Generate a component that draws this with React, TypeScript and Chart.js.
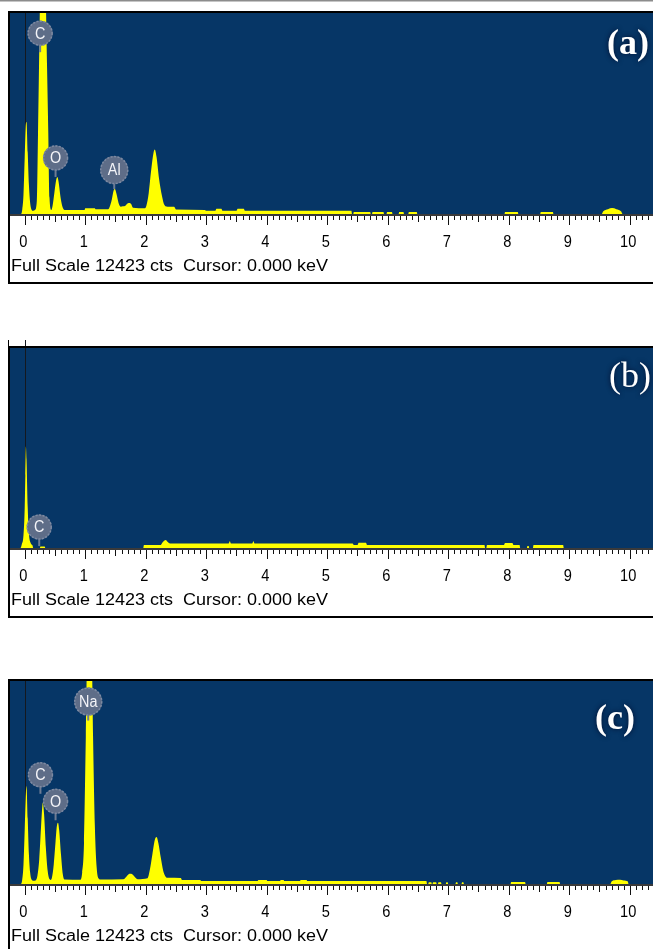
import React, { useEffect, useRef } from "react";
import { Chart, registerables } from "chart.js";

Chart.register(...registerables);

// ---------- data ----------
const FULL_SCALE = 12423; // cts
const X_MIN = -0.243; // keV
const X_MAX = 10.385; // keV
const MAJOR_TICKS = [0, 1, 2, 3, 4, 5, 6, 7, 8, 9, 10];
const FOOTER = "Full Scale 12423 cts  Cursor: 0.000 keV";

type Pt = [number, number]; // [keV, counts]

const SPECTRUM_A: Pt[] = [
  [-0.25, 0], [-0.06, 0], [-0.04, 300], [-0.02, 1200], [0.0, 3500], [0.02, 5600], [0.03, 5680], [0.05, 3800],
  [0.07, 1800], [0.09, 700], [0.11, 300], [0.14, 200], [0.17, 250],
  [0.2, 800], [0.22, 5000], [0.24, 10000], [0.26, 15000], [0.3, 20000], [0.34, 15000], [0.37, 9000], [0.39, 5000],
  [0.41, 1000], [0.44, 250],
  [0.46, 500], [0.49, 1300], [0.52, 2100], [0.54, 2290], [0.56, 2000], [0.59, 1100], [0.62, 500], [0.66, 250],
  [0.99, 250], [1.0, 350], [1.16, 350], [1.17, 300], [1.38, 300],
  [1.4, 400], [1.44, 900], [1.47, 1450], [1.49, 1540], [1.52, 1200], [1.55, 700], [1.59, 450],
  [1.62, 480], [1.66, 500], [1.69, 620], [1.72, 680], [1.76, 620], [1.79, 380], [1.98, 350],
  [2.01, 500], [2.05, 1300], [2.09, 2700], [2.13, 3800], [2.15, 3980], [2.18, 3500], [2.22, 2200], [2.27, 1100],
  [2.31, 550], [2.36, 450], [2.47, 450], [2.5, 280],
  [2.98, 250], [3.0, 200], [3.15, 200], [3.17, 320], [3.25, 320], [3.27, 200], [3.5, 200], [3.52, 320], [3.62, 320],
  [3.64, 200],
  [5.4, 200], [5.41, 0], [5.43, 0], [5.44, 130], [5.71, 130], [5.72, 0], [5.74, 0], [5.75, 130], [5.93, 130],
  [5.94, 0], [5.98, 0], [5.99, 130], [6.07, 130], [6.08, 0], [6.18, 0], [6.19, 130], [6.26, 130], [6.27, 0],
  [6.34, 0], [6.35, 130], [6.48, 130], [6.49, 0],
  [7.93, 0], [7.94, 125], [8.15, 125], [8.16, 0], [8.52, 0], [8.53, 125], [8.73, 125], [8.74, 0],
  [9.54, 0], [9.56, 150], [9.64, 300], [9.71, 370], [9.78, 300], [9.86, 150], [9.88, 0], [10.38, 0],
];

const SPECTRUM_B: Pt[] = [
  [-0.25, 0], [-0.07, 0], [-0.05, 200], [-0.02, 800], [0.0, 2500], [0.01, 4500], [0.02, 6300], [0.03, 5500],
  [0.05, 2500], [0.07, 900], [0.1, 300], [0.13, 150], [0.14, 0],
  [0.25, 0], [0.26, 100], [0.33, 100], [0.34, 0],
  [1.96, 0], [1.97, 185], [2.25, 185], [2.28, 350], [2.33, 500], [2.37, 350], [2.4, 280], [3.37, 280], [3.39, 420],
  [3.41, 280], [3.76, 280], [3.78, 420], [3.8, 280], [5.42, 280], [5.44, 180], [5.5, 180], [5.52, 320], [5.64, 320],
  [5.66, 180], [7.6, 180], [7.61, 0], [7.63, 0], [7.64, 180], [7.92, 180], [7.94, 310], [8.06, 310], [8.08, 180],
  [8.18, 180], [8.19, 0], [8.3, 0], [8.31, 120], [8.33, 120], [8.34, 0], [8.4, 0], [8.41, 180], [8.9, 180],
  [8.91, 0], [10.38, 0],
];

const SPECTRUM_C: Pt[] = [
  [-0.25, 0], [-0.06, 0], [-0.04, 300], [-0.02, 1200], [0.0, 3300], [0.02, 5600], [0.03, 6000], [0.05, 4000],
  [0.07, 1800], [0.09, 700], [0.11, 300], [0.14, 200],
  [0.18, 220], [0.21, 500], [0.24, 1500], [0.27, 3500], [0.29, 4700], [0.3, 4970], [0.32, 4300], [0.35, 2200],
  [0.38, 800], [0.41, 300], [0.43, 250],
  [0.45, 400], [0.48, 1200], [0.51, 2600], [0.53, 3500], [0.55, 3750], [0.57, 3300], [0.6, 1800], [0.63, 600],
  [0.66, 280],
  [0.92, 260], [0.95, 700], [0.98, 2500], [1.01, 9000], [1.03, 14000], [1.07, 17000], [1.11, 14000], [1.13, 9000],
  [1.16, 3500], [1.19, 1000], [1.22, 350], [1.25, 280],
  [1.63, 290], [1.68, 450], [1.73, 620], [1.76, 630], [1.8, 520], [1.84, 350], [1.87, 290],
  [2.03, 350], [2.07, 900], [2.11, 1800], [2.15, 2700], [2.18, 2880], [2.21, 2500], [2.25, 1600], [2.29, 800],
  [2.33, 450], [2.37, 380], [2.58, 370], [2.6, 250], [2.9, 250], [2.92, 185],
  [3.85, 185], [3.86, 250], [4.0, 250], [4.01, 185], [4.22, 185], [4.23, 250], [4.28, 250], [4.29, 185],
  [4.55, 185], [4.56, 250], [4.66, 250], [4.67, 185],
  [6.64, 185], [6.65, 0], [6.67, 0], [6.68, 100], [6.72, 100], [6.73, 0], [6.74, 0], [6.75, 100], [6.8, 100],
  [6.81, 0], [6.83, 0], [6.84, 100], [6.88, 100], [6.89, 0], [6.96, 0], [6.97, 100], [6.99, 100], [7.0, 0],
  [7.12, 0], [7.13, 100], [7.15, 100], [7.16, 0], [7.22, 0], [7.23, 100], [7.25, 100], [7.26, 0],
  [8.03, 0], [8.04, 125], [8.27, 125], [8.28, 0], [8.63, 0], [8.64, 125], [8.84, 125], [8.85, 0],
  [9.68, 0], [9.7, 150], [9.77, 250], [9.84, 265], [9.9, 220], [9.97, 150], [9.98, 0], [10.38, 0],
];

const PEAKS_A = ["C", "O", "Al"];
const PEAK_KEV_A = [0.255, 0.51, 1.48];
const PEAK_CTS_A = [10000, 2290, 1540];

const PEAKS_B = ["C"];
const PEAK_KEV_B = [0.24];
const PEAK_CTS_B = [120];

const PEAKS_C = ["Na", "C", "O"];
const PEAK_KEV_C = [1.05, 0.26, 0.51];
const PEAK_CTS_C = [10000, 5520, 3900];

// ---------- layout / style ----------
const W = 653;
const BG = "#063666";
const YELLOW = "#ffff00";

interface PanelCfg {
  top: number;
  height: number;
  plotTop: number;
  plotBottom: number;
  frameBottom: number;
  spectrum: Pt[];
  peaks: string[];
  peakKeV: number[];
  peakCts: number[];
  tag: string;
  tagBold: boolean;
  tagX: number;
  tagY: number;
  topRule?: boolean;
  extendUp?: boolean;
}

const PANELS: PanelCfg[] = [
  {
    top: 0, height: 290, plotTop: 13, plotBottom: 214, frameBottom: 283,
    spectrum: SPECTRUM_A, peaks: PEAKS_A, peakKeV: PEAK_KEV_A, peakCts: PEAK_CTS_A,
    tag: "(a)", tagBold: true, tagX: 628, tagY: 45, topRule: true,
  },
  {
    top: 335, height: 290, plotTop: 13, plotBottom: 213, frameBottom: 282,
    spectrum: SPECTRUM_B, peaks: PEAKS_B, peakKeV: PEAK_KEV_B, peakCts: PEAK_CTS_B,
    tag: "(b)", tagBold: false, tagX: 630, tagY: 43, extendUp: true,
  },
  {
    top: 668, height: 290, plotTop: 13, plotBottom: 216, frameBottom: 283,
    spectrum: SPECTRUM_C, peaks: PEAKS_C, peakKeV: PEAK_KEV_C, peakCts: PEAK_CTS_C,
    tag: "(c)", tagBold: true, tagX: 615, tagY: 52,
  },
];

function makePlugin(cfg: PanelCfg) {
  return {
    id: "edsDecor",
    beforeDraw(chart: any) {
      const { ctx, chartArea } = chart;
      ctx.save();
      ctx.fillStyle = "#ffffff";
      ctx.fillRect(0, 0, chart.width, chart.height);
      ctx.fillStyle = BG;
      ctx.fillRect(chartArea.left, chartArea.top, chartArea.right - chartArea.left, chartArea.bottom - chartArea.top);
      ctx.restore();
    },
    beforeDatasetsDraw(chart: any) {
      const { ctx, chartArea } = chart;
      const xs = chart.scales.x;
      const x0 = Math.round(xs.getPixelForValue(0)) + 0.5;
      ctx.save();
      ctx.strokeStyle = "#14181f";
      ctx.lineWidth = 1;
      ctx.beginPath();
      ctx.moveTo(x0, cfg.extendUp ? 5 : chartArea.top);
      ctx.lineTo(x0, chartArea.bottom);
      ctx.stroke();
      ctx.restore();
    },
    afterDatasetsDraw(chart: any) {
      const { ctx } = chart;
      const xs = chart.scales.x;
      const ys = chart.scales.y;
      ctx.save();
      cfg.peaks.forEach((name, i) => {
        const bx = xs.getPixelForValue(cfg.peakKeV[i]);
        const ay = ys.getPixelForValue(cfg.peakCts[i]);
        const cy = ay - 19;
        const r = name.length > 1 ? 14 : 12.5;
        ctx.strokeStyle = "#6f7c93";
        ctx.lineWidth = 2;
        ctx.beginPath();
        ctx.moveTo(bx, cy + r - 1);
        ctx.lineTo(bx, ay);
        ctx.stroke();
        ctx.fillStyle = "#5e6d88";
        ctx.beginPath();
        ctx.arc(bx, cy, r, 0, Math.PI * 2);
        ctx.fill();
        ctx.strokeStyle = "#7d8aa2";
        ctx.lineWidth = 1.5;
        ctx.setLineDash([2, 1.5]);
        ctx.beginPath();
        ctx.arc(bx, cy, r - 0.5, 0, Math.PI * 2);
        ctx.stroke();
        ctx.setLineDash([]);
        ctx.font = "16px 'Liberation Sans', Arial, sans-serif";
        ctx.textAlign = "center";
        ctx.textBaseline = "middle";
        ctx.fillStyle = "#f4f4f8";
        ctx.save();
        ctx.translate(bx, cy + 1);
        ctx.scale(0.9, 1);
        ctx.fillText(name, 0, 0);
        ctx.restore();
      });
      // panel tag
      ctx.font = `${cfg.tagBold ? "bold " : ""}36px 'Liberation Serif', 'Times New Roman', serif`;
      ctx.textAlign = "center";
      ctx.textBaseline = "middle";
      ctx.shadowColor = "rgba(0,10,40,0.9)";
      ctx.shadowBlur = 5;
      ctx.fillStyle = "#ffffff";
      ctx.fillText(cfg.tag, cfg.tagX, cfg.tagY);
      ctx.restore();
    },
    afterDraw(chart: any) {
      const { ctx, chartArea } = chart;
      const xs = chart.scales.x;
      const pb = chartArea.bottom;
      ctx.save();
      // axis ruler line
      ctx.fillStyle = "#3a3a3a";
      ctx.fillRect(chartArea.left, pb, chartArea.right - chartArea.left, 2);
      // ticks every 0.1 keV
      ctx.strokeStyle = "#111";
      ctx.lineWidth = 1;
      for (let i = 0; i <= 103; i++) {
        const v = i / 10;
        const px = Math.round(xs.getPixelForValue(v)) + 0.5;
        if (px > chart.width) break;
        const len = i % 10 === 0 ? 9 : i % 5 === 0 ? 6 : 4;
        ctx.beginPath();
        ctx.moveTo(px, pb + 2);
        ctx.lineTo(px, pb + 2 + len);
        ctx.stroke();
      }
      // tick labels
      ctx.fillStyle = "#000";
      ctx.font = "17px 'Liberation Sans', Arial, sans-serif";
      ctx.textAlign = "center";
      ctx.textBaseline = "middle";
      MAJOR_TICKS.forEach((v) => {
        const px = xs.getPixelForValue(v) - 1.5;
        ctx.save();
        ctx.translate(px, pb + 28);
        ctx.scale(0.86, 1);
        ctx.fillText(String(v), 0, 0);
        ctx.restore();
      });
      // footer
      ctx.font = "16px 'Liberation Sans', Arial, sans-serif";
      ctx.textAlign = "left";
      const w = ctx.measureText(FOOTER).width;
      ctx.save();
      ctx.translate(11, pb + 53);
      ctx.scale(317 / w, 1);
      ctx.fillText(FOOTER, 0, 0);
      ctx.restore();
      // frame
      ctx.strokeStyle = "#000";
      ctx.lineWidth = 2;
      ctx.beginPath();
      ctx.moveTo(chart.width + 2, chartArea.top - 1);
      ctx.lineTo(9, chartArea.top - 1);
      ctx.lineTo(9, cfg.frameBottom);
      ctx.lineTo(chart.width + 2, cfg.frameBottom);
      ctx.stroke();
      if (cfg.extendUp) {
        ctx.lineWidth = 1;
        ctx.beginPath();
        ctx.moveTo(8.5, 5);
        ctx.lineTo(8.5, chartArea.top);
        ctx.stroke();
      }
      if (cfg.topRule) {
        ctx.fillStyle = "#8c8c8c";
        ctx.fillRect(0, 0, chart.width, 1.5);
      }
      ctx.restore();
    },
  };
}

function Panel({ cfg }: { cfg: PanelCfg }) {
  const ref = useRef<HTMLCanvasElement>(null);
  useEffect(() => {
    const canvas = ref.current!;
    const chart = new Chart(canvas, {
      type: "line",
      data: {
        datasets: [
          {
            data: cfg.spectrum.map(([x, y]) => ({ x, y })),
            borderColor: YELLOW,
            borderWidth: 0,
            backgroundColor: YELLOW,
            fill: "origin",
            pointRadius: 0,
            cubicInterpolationMode: "monotone",
            clip: 0,
          } as any,
        ],
      },
      options: {
        responsive: false,
        animation: false,
        devicePixelRatio: 1,
        events: [],
        layout: {
          padding: { left: 10, right: 0, top: cfg.plotTop, bottom: cfg.height - cfg.plotBottom },
        },
        scales: {
          x: { type: "linear", min: X_MIN, max: X_MAX, display: false },
          y: { type: "linear", min: 0, max: FULL_SCALE, display: false },
        },
        plugins: { legend: { display: false }, tooltip: { enabled: false } },
      },
      plugins: [makePlugin(cfg)],
    });
    return () => chart.destroy();
  }, [cfg]);
  return (
    <canvas
      ref={ref}
      width={W}
      height={cfg.height}
      style={{ position: "absolute", left: 0, top: cfg.top, width: W, height: cfg.height, display: "block" }}
    />
  );
}

export default function App() {
  return (
    <div
      style={{ position: "fixed", left: 0, top: 0, width: W, height: 949, overflow: "hidden", background: "#fff" }}
    >
      {PANELS.map((p, i) => (
        <Panel key={i} cfg={p} />
      ))}
    </div>
  );
}
